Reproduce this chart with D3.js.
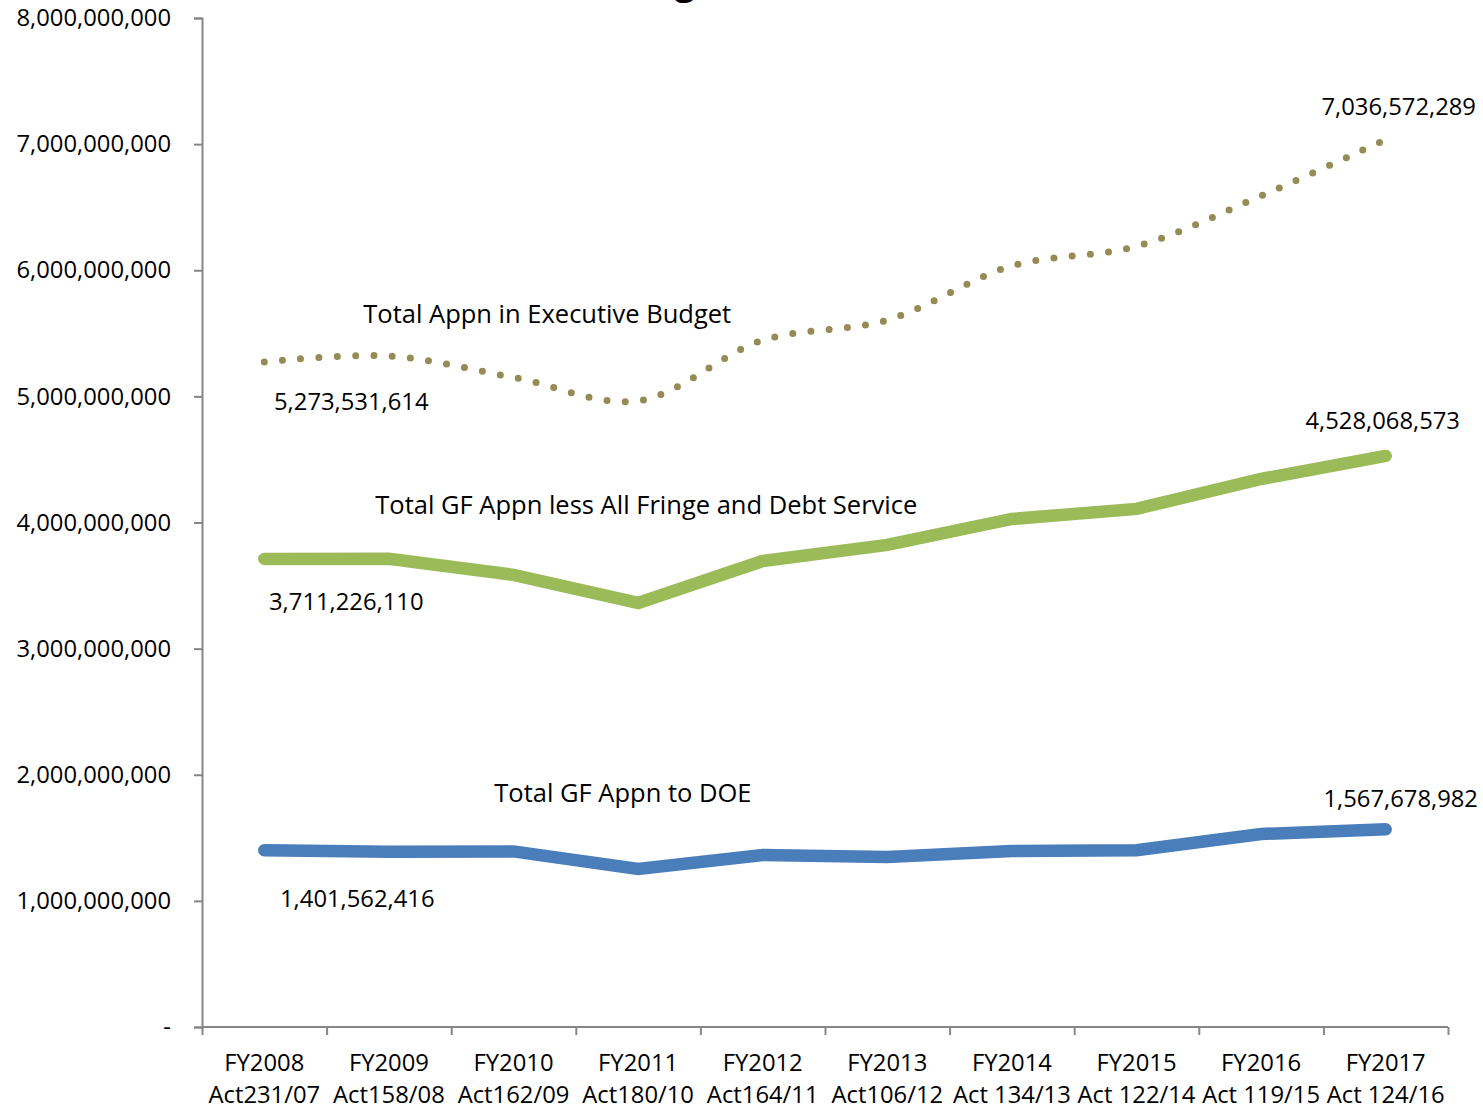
<!DOCTYPE html>
<html>
<head>
<meta charset="utf-8">
<script src="https://cdn.jsdelivr.net/npm/d3@7"></script>
<style>
  html, body { margin: 0; padding: 0; background: #fff; }
  svg { display: block; }
  text { font-family: "Open Sans", "Noto Sans", sans-serif; fill: #000; }
</style>
</head>
<body>
<svg id="chart" width="1483" height="1109"></svg>
<script>
// Fiscal years and the acts that set their appropriations
const fiscalYears = ["FY2008","FY2009","FY2010","FY2011","FY2012","FY2013","FY2014","FY2015","FY2016","FY2017"];
const acts = ["Act231/07","Act158/08","Act162/09","Act180/10","Act164/11","Act106/12","Act 134/13","Act 122/14","Act 119/15","Act 124/16"];

// Total appropriations in the executive budget
const totalExecutive = [5273531614, 5320000000, 5150000000, 4965000000, 5445000000, 5605000000, 6035000000, 6190000000, 6590000000, 7036572289];
// Total general fund appropriations less all fringe and debt service
const gfLessFringe = [3711226110, 3712000000, 3585000000, 3362000000, 3695000000, 3822000000, 4028000000, 4108000000, 4345000000, 4528068573];
// Total general fund appropriations to the Department of Education
const gfToDOE = [1401562416, 1390000000, 1392000000, 1253000000, 1364000000, 1348000000, 1396000000, 1402000000, 1530000000, 1567678982];

const yTicks = [0, 1e9, 2e9, 3e9, 4e9, 5e9, 6e9, 7e9, 8e9];

const svg = d3.select("#chart");
const plotLeft = 202, plotRight = 1448, plotTop = 18, plotBottom = 1027;
const axisColor = "#868686";
const numSize = 23.8, nameSize = 25.5;

const x = d3.scaleBand().domain(fiscalYears).range([plotLeft, plotRight]).padding(0);
const cx = d => x(d) + x.bandwidth() / 2;
const y = d3.scaleLinear().domain([0, 8e9]).range([plotBottom, plotTop]);

// Title (sits mostly above the visible area)
svg.append("text")
  .attr("x", 604).attr("y", -6)
  .attr("font-size", 36).attr("font-weight", "bold")
  .text("Budget Growth");

// Y axis
const fmt = d3.format(",");
const yAxis = svg.append("g")
  .attr("transform", `translate(${plotLeft},0)`)
  .call(d3.axisLeft(y).tickValues(yTicks).tickSize(8).tickPadding(23)
    .tickFormat(d => d === 0 ? "-" : fmt(d)));
yAxis.select(".domain").attr("stroke", axisColor).attr("stroke-width", 2);
yAxis.selectAll(".tick line").attr("stroke", axisColor).attr("stroke-width", 2);
yAxis.selectAll(".tick text").attr("font-size", numSize).attr("fill", "#000")
  .attr("font-family", "'Open Sans', sans-serif");

// X axis: tick marks at band boundaries
const edges = d3.scaleLinear().domain([0, fiscalYears.length]).range([plotLeft, plotRight]);
const xAxis = svg.append("g")
  .attr("transform", `translate(0,${plotBottom})`)
  .call(d3.axisBottom(edges).tickValues(d3.range(0, fiscalYears.length + 1)).tickSize(8).tickFormat(""));
xAxis.select(".domain").attr("stroke", axisColor).attr("stroke-width", 2)
  .attr("d", `M${plotLeft},0H${plotRight}`);
xAxis.selectAll(".tick line").attr("stroke", axisColor).attr("stroke-width", 2);

// X category labels (two lines)
const xl = svg.append("g");
fiscalYears.forEach((fy, i) => {
  const t = xl.append("text")
    .attr("x", cx(fy)).attr("text-anchor", "middle").attr("font-size", numSize);
  t.append("tspan").attr("x", cx(fy)).attr("y", plotBottom + 44).text(fy);
  t.append("tspan").attr("x", cx(fy)).attr("y", plotBottom + 76).text(acts[i]);
});

// Lines
const lineSmooth = d3.line().x((d, i) => cx(fiscalYears[i])).y(d => y(d)).curve(d3.curveCatmullRom.alpha(0.5));
const lineStraight = d3.line().x((d, i) => cx(fiscalYears[i])).y(d => y(d));

svg.append("path").datum(gfToDOE)
  .attr("d", lineStraight).attr("fill", "none")
  .attr("stroke", "#4A7EBB").attr("stroke-width", 12.5)
  .attr("stroke-linecap", "round").attr("stroke-linejoin", "miter");

svg.append("path").datum(gfLessFringe)
  .attr("d", lineStraight).attr("fill", "none")
  .attr("stroke", "#9BBB59").attr("stroke-width", 12.5)
  .attr("stroke-linecap", "round").attr("stroke-linejoin", "miter");

svg.append("path").datum(totalExecutive)
  .attr("d", lineSmooth).attr("fill", "none")
  .attr("stroke", "#958B54").attr("stroke-width", 7)
  .attr("stroke-linecap", "round").attr("stroke-dasharray", "0 18.3");

// Data labels at the first and last points
const labels = svg.append("g").attr("font-size", numSize);
function endLabels(series, dyFirst, dxFirst, dyLast, dxLast) {
  const n = series.length - 1;
  labels.append("text")
    .attr("x", cx(fiscalYears[0]) + dxFirst).attr("y", y(series[0]) + dyFirst)
    .attr("text-anchor", "middle").text(fmt(series[0]));
  labels.append("text")
    .attr("x", cx(fiscalYears[n]) + dxLast).attr("y", y(series[n]) + dyLast)
    .attr("text-anchor", "middle").text(fmt(series[n]));
}
endLabels(totalExecutive, 48, 87, -25, 13);
endLabels(gfLessFringe, 51, 82, -27, -3);
endLabels(gfToDOE, 57, 93, -22, 15);

// Series names
const names = svg.append("g").attr("font-size", nameSize);
names.append("text").attr("x", cx(fiscalYears[0]) + 99).attr("y", y(totalExecutive[0]) - 39)
  .text("Total Appn in Executive Budget");
names.append("text").attr("x", cx(fiscalYears[0]) + 111).attr("y", y(gfLessFringe[0]) - 45)
  .text("Total GF Appn less All Fringe and Debt Service");
names.append("text").attr("x", cx(fiscalYears[0]) + 230).attr("y", y(gfToDOE[0]) - 48)
  .text("Total GF Appn to DOE");
</script>
</body>
</html>
